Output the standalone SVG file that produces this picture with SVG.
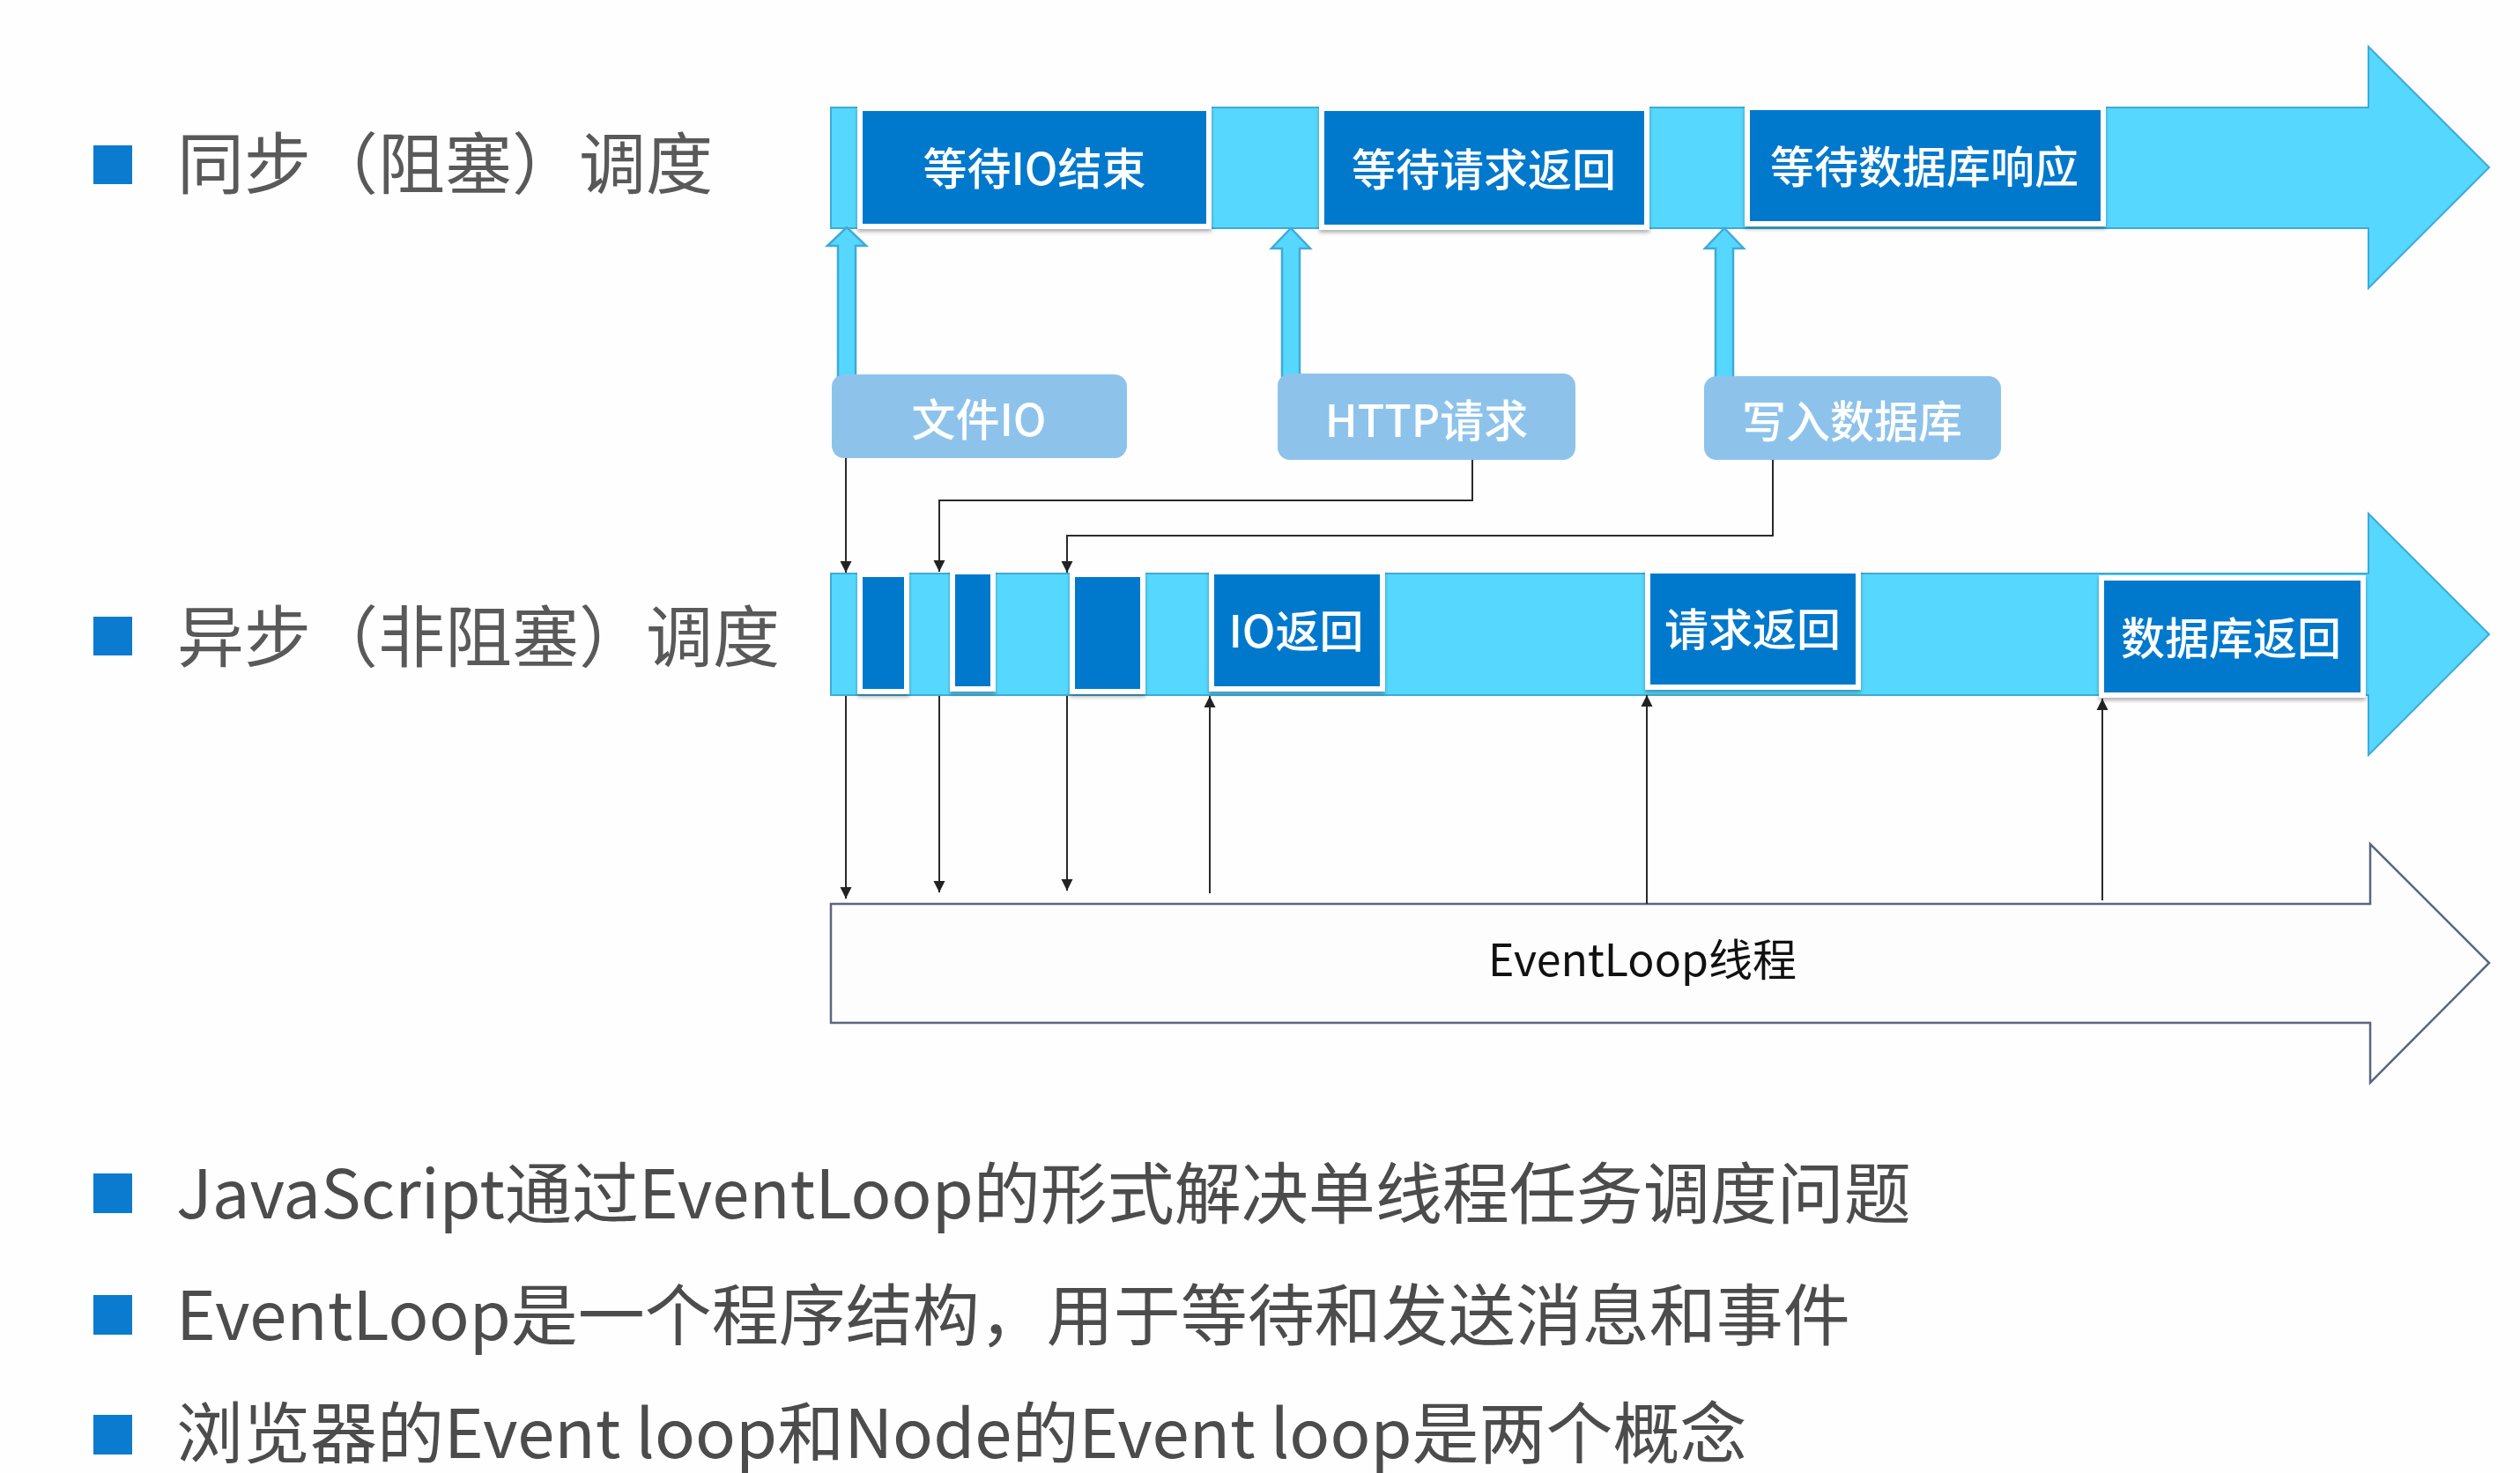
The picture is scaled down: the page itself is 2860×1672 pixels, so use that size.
<svg xmlns="http://www.w3.org/2000/svg" width="2860" height="1672" viewBox="0 0 2860 1672">
<style>
.bar{fill:#56D8FE;stroke:#3FAAD8;stroke-width:2}
.dk{fill:#0079CD;stroke:#ffffff;stroke-width:6;filter:url(#sh)}
.lbl{fill:#8DC3EB}
.wt{font-family:"Noto Sans CJK SC","Noto Sans",sans-serif;font-size:50px;font-weight:500;fill:#ffffff;text-anchor:middle;dominant-baseline:central}
.up{fill:#56D8FE;stroke:#3FAAD8;stroke-width:2.5}
.ln{fill:none;stroke:#2a2a2a;stroke-width:2}
.hd{font-family:"Noto Sans CJK SC","Noto Sans",sans-serif;font-size:76px;fill:#595959}
.bt{font-family:"Noto Sans CJK SC","Noto Sans",sans-serif;font-size:76px;fill:#4c4c4c}
.sq{fill:#0A7BCF}
</style>
<defs>
<filter id="sh" x="-10%" y="-10%" width="120%" height="130%">
<feDropShadow dx="0" dy="3" stdDeviation="2" flood-color="#000" flood-opacity="0.3"/>
</filter>
<marker id="ah" viewBox="0 0 10 10" refX="10" refY="5" markerWidth="13" markerHeight="14" orient="auto-start-reverse" markerUnits="userSpaceOnUse">
<path d="M0,0 L10,5 L0,10 Z" fill="#222"/>
</marker>
</defs>
<rect width="2860" height="1672" fill="#fefefe"/>

<g id="heading-sync">
<rect class="sq" x="106" y="165" width="44" height="44"/>
<text class="hd" x="201" y="214">同步（阻塞）调度</text>
</g>
<g id="heading-async">
<rect class="sq" x="106" y="700" width="44" height="44"/>
<text class="hd" x="201" y="751">异步（非阻塞）调度</text>
</g>

<g id="sync-timeline">
<path class="bar" d="M943,122 H2688 V53 L2825,190 L2688,327 V259 H943 Z"/>
</g>
<g id="sync-wait-io">
<rect class="dk" x="976" y="123" width="396" height="134"/>
<text class="wt" x="1174" y="188">等待IO结束</text>
</g>
<g id="sync-wait-http">
<rect class="dk" x="1500" y="123" width="369" height="135"/>
<text class="wt" x="1684" y="189">等待请求返回</text>
</g>
<g id="sync-wait-db">
<rect class="dk" x="1983" y="122" width="404" height="132"/>
<text class="wt" x="2184" y="186">等待数据库响应</text>
</g>

<g id="up-arrows">
<path class="up" d="M951,427 V279 H939 L961,258 L983,279 H971 V427 Z"/>
<path class="up" d="M1455,427 V282 H1443 L1465,259 L1487,282 H1475 V427 Z"/>
<path class="up" d="M1947,430 V282 H1935 L1957,259 L1979,282 H1967 V430 Z"/>
</g>

<g id="task-file-io">
<rect class="lbl" x="944" y="425" width="335" height="95" rx="14"/>
<text class="wt" x="1111" y="473">文件IO</text>
</g>
<g id="task-http">
<rect class="lbl" x="1450" y="424" width="338" height="98" rx="14"/>
<text class="wt" x="1619" y="474">HTTP请求</text>
</g>
<g id="task-db">
<rect class="lbl" x="1934" y="427" width="337" height="95" rx="14"/>
<text class="wt" x="2102" y="475">写入数据库</text>
</g>

<g id="async-timeline">
<path class="bar" d="M943,651 H2688 V583 L2825,720 L2688,857 V789 H943 Z"/>
</g>
<g id="async-s1"><rect class="dk" x="976" y="652" width="53" height="133"/></g>
<g id="async-s2"><rect class="dk" x="1081" y="649" width="46" height="133"/></g>
<g id="async-s3"><rect class="dk" x="1217" y="652" width="80" height="133"/></g>
<g id="async-io-ret">
<rect class="dk" x="1375" y="649" width="194" height="133"/>
<text class="wt" x="1471" y="713">IO返回</text>
</g>
<g id="async-http-ret">
<rect class="dk" x="1870" y="648" width="239" height="132"/>
<text class="wt" x="1989" y="711">请求返回</text>
</g>
<g id="async-db-ret">
<rect class="dk" x="2385" y="656" width="297" height="133"/>
<text class="wt" x="2532" y="721">数据库返回</text>
</g>

<g id="eventloop">
<path d="M943,1026 H2690 V958 L2825,1093 L2690,1229 V1161 H943 Z" fill="#fdfdfe" stroke="#5B6680" stroke-width="2.5"/>
<text x="1864" y="1108" font-family="'Noto Sans CJK SC','Noto Sans',sans-serif" font-size="50" fill="#111" text-anchor="middle">EventLoop线程</text>
</g>

<g id="connectors">
<path class="ln" d="M960,520 V650" marker-end="url(#ah)"/>
<path class="ln" d="M1671,522 V568 H1066 V649" marker-end="url(#ah)"/>
<path class="ln" d="M2012,522 V608 H1211 V650" marker-end="url(#ah)"/>
<path class="ln" d="M960,790 V1020" marker-end="url(#ah)"/>
<path class="ln" d="M1066,790 V1013" marker-end="url(#ah)"/>
<path class="ln" d="M1211,790 V1011" marker-end="url(#ah)"/>
<path class="ln" d="M1373,1014 V790" marker-end="url(#ah)"/>
<path class="ln" d="M1869,1026 V789" marker-end="url(#ah)"/>
<path class="ln" d="M2386,1022 V793" marker-end="url(#ah)"/>
</g>

<g id="notes">
<rect class="sq" x="106" y="1332" width="44" height="45"/>
<text class="bt" x="200" y="1383">JavaScript通过EventLoop的形式解决单线程任务调度问题</text>
<rect class="sq" x="106" y="1470" width="44" height="45"/>
<text class="bt" x="200" y="1521">EventLoop是一个程序结构，用于等待和发送消息和事件</text>
<rect class="sq" x="106" y="1606" width="44" height="45"/>
<text class="bt" x="200" y="1655">浏览器的Event loop和Node的Event loop是两个概念</text>
</g>
</svg>
